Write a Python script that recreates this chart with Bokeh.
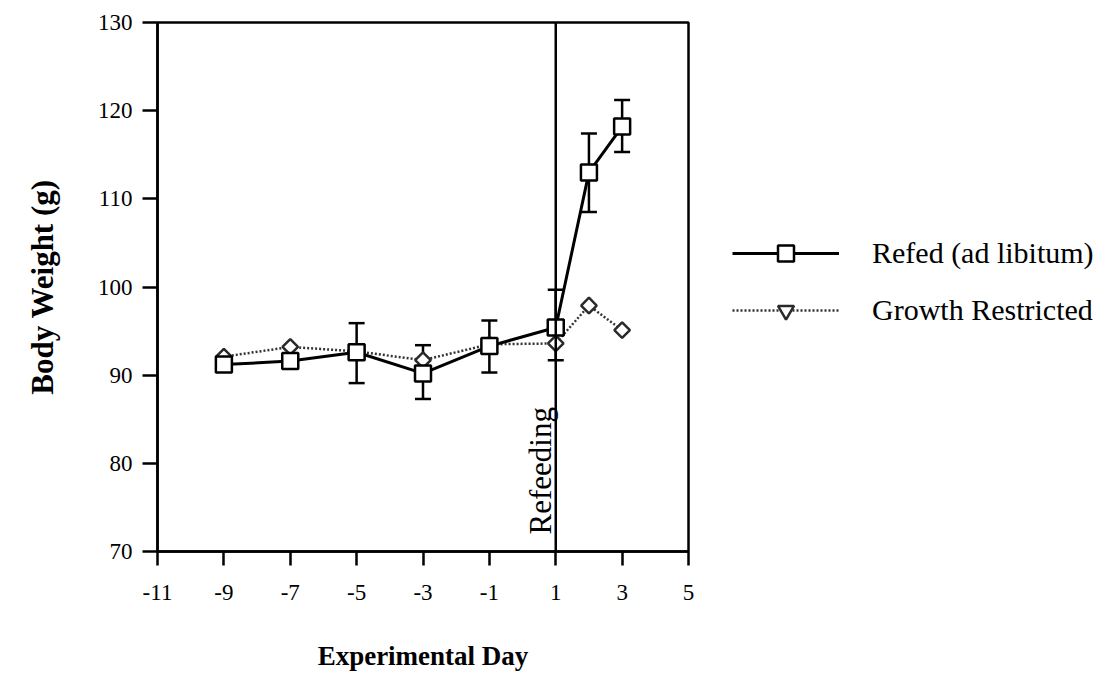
import math
from bokeh.plotting import figure
from bokeh.models import FixedTicker, Span, Label, Legend, LegendItem
from bokeh.embed import file_html
from bokeh.resources import INLINE

# ---- data ----
days = [-9, -7, -5, -3, -1, 1, 2, 3]
refed = [91.2, 91.6, 92.6, 90.2, 93.3, 95.4, 113.0, 118.2]
growth = [92.1, 93.2, 92.7, 91.7, 93.5, 93.6, 97.9, 95.1]
err_days = [-5, -3, -1, 1, 2, 3]
refed_upper = [95.9, 93.4, 96.2, 99.7, 117.4, 121.2]
refed_lower = [89.1, 87.3, 90.3, 91.7, 108.5, 115.3]
x_ticks = [-11, -9, -7, -5, -3, -1, 1, 3, 5]
y_ticks = [70, 80, 90, 100, 110, 120, 130]
refeed_day = 1

FONT = "Liberation Serif"

p = figure(x_range=(-11, 5), y_range=(70, 130),
           output_backend="svg", toolbar_location=None,
           min_border_left=157, min_border_right=422,
           min_border_top=22, min_border_bottom=124)
p.frame_width = 531
p.frame_height = 529
p.background_fill_color = "white"
p.border_fill_color = "white"
p.grid.visible = False
p.outline_line_color = "black"
p.outline_line_width = 2.5

p.xaxis.ticker = FixedTicker(ticks=x_ticks)
p.yaxis.ticker = FixedTicker(ticks=y_ticks)
p.xaxis.major_label_overrides = {t: str(t) for t in x_ticks}
p.yaxis.major_label_overrides = {t: str(t) for t in y_ticks}
for ax in (p.xaxis[0], p.yaxis[0]):
    ax.axis_line_width = 2.5
    ax.axis_line_color = "black"
    ax.major_tick_line_width = 2.5
    ax.major_tick_line_color = "black"
    ax.major_tick_in = 0
    ax.minor_tick_in = 0
    ax.minor_tick_out = 0
    ax.major_label_text_font = FONT
    ax.major_label_text_font_size = "23px"
    ax.major_label_text_color = "black"
    ax.axis_label_text_font = FONT
    ax.axis_label_text_font_style = "bold"
    ax.axis_label_text_color = "black"
p.xaxis.major_tick_out = 14
p.yaxis.major_tick_out = 15
p.xaxis.major_label_standoff = 19
p.yaxis.major_label_standoff = 10
p.xaxis.axis_label = "Experimental Day"
p.yaxis.axis_label = "Body Weight (g)"
p.xaxis.axis_label_text_font_size = "27px"
p.yaxis.axis_label_text_font_size = "31px"
p.xaxis.axis_label_standoff = 38
p.yaxis.axis_label_standoff = 35

# refeeding marker line
p.add_layout(Span(location=refeed_day, dimension="height", line_color="black", line_width=2.5))
p.add_layout(Label(x=refeed_day, y=70, x_offset=-15, y_offset=17, text="Refeeding",
                   angle=math.pi / 2, text_align="left", text_baseline="alphabetic",
                   text_font=FONT, text_font_size="31px", text_color="black"))

# error bars
p.segment(x0=err_days, y0=refed_lower, x1=err_days, y1=refed_upper,
          line_color="black", line_width=2.5)
p.scatter(x=err_days, y=refed_upper, marker="dash", size=16, line_color="black", line_width=2.5)
p.scatter(x=err_days, y=refed_lower, marker="dash", size=16, line_color="black", line_width=2.5)

# growth restricted series
g_line = p.line(days, growth, line_color="#333333", line_width=2.5, line_dash="2 2")
g_pts = p.scatter(days, growth, marker="square", angle=math.pi / 4, size=11,
                  fill_color="white", line_color="#2a2a2a", line_width=2.5)
# legend-only glyph (no visible point in the plot)
g_leg = p.scatter(x=[math.nan], y=[math.nan], marker="inverted_triangle",
                  fill_color="white", line_color="#2a2a2a", line_width=2.5)

# refed series
r_line = p.line(days, refed, line_color="black", line_width=3)
r_pts = p.scatter(days, refed, marker="square", size=16,
                  fill_color="white", line_color="black", line_width=2.5)

legend = Legend(items=[LegendItem(label="Refed (ad libitum)", renderers=[r_line, r_pts]),
                       LegendItem(label="Growth Restricted", renderers=[g_line, g_leg])],
                location=(44, 221), glyph_width=107, glyph_height=40, label_height=40,
                spacing=17, label_standoff=33, padding=0, margin=0,
                border_line_color=None, background_fill_alpha=0,
                label_text_font=FONT, label_text_font_size="30px", label_text_color="black")
p.add_layout(legend, "right")

open("out.html", "w").write(file_html(p, INLINE))
